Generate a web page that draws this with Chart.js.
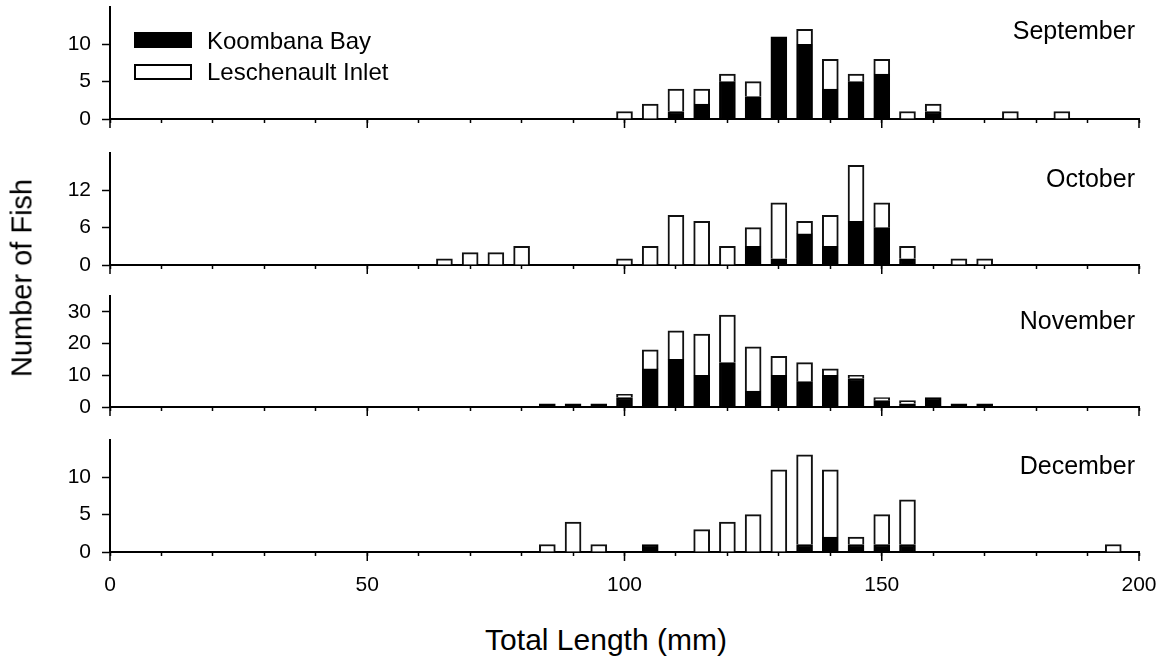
<!DOCTYPE html>
<html>
<head>
<meta charset="utf-8">
<script src="https://cdn.jsdelivr.net/npm/chart.js@4.4.1/dist/chart.umd.min.js"></script>
<style>
  body { margin: 0; background: #fff; font-family: 'Liberation Sans', Arial, sans-serif; }
  #wrap { position: relative; width: 1168px; height: 661px; overflow: hidden; }
  .panel { position: absolute; left: 0; width: 1175px; }
  .txt { position: absolute; color: #000; white-space: nowrap; line-height: 1; }
  .month { right: 33px; font-size: 25px; }
  .key { position: absolute; left: 134px; width: 58px; height: 16px; box-sizing: border-box; border: 2px solid #000; }
</style>
</head>
<body>
<div id="wrap">
  <div class="panel" id="p0"><canvas id="c0"></canvas></div>
  <div class="panel" id="p1"><canvas id="c1"></canvas></div>
  <div class="panel" id="p2"><canvas id="c2"></canvas></div>
  <div class="panel" id="p3"><canvas id="c3"></canvas></div>

  <div class="key" style="top:32px;background:#000"></div>
  <div class="key" style="top:64px;background:#fff"></div>
  <div class="txt" style="left:207px;top:29px;font-size:24px">Koombana Bay</div>
  <div class="txt" style="left:207px;top:60px;font-size:24px">Leschenault Inlet</div>

  <div class="txt month" style="top:18px">September</div>
  <div class="txt month" style="top:166px">October</div>
  <div class="txt month" style="top:308px">November</div>
  <div class="txt month" style="top:453px">December</div>

  <div class="txt" style="left:606px;top:625px;font-size:30px;transform:translateX(-50%)">Total Length (mm)</div>
  <div class="txt" style="left:22px;top:278px;font-size:29px;transform:translate(-50%,-50%) rotate(-90deg)">Number of Fish</div>
</div>
<script>
// length classes (mm), 5 mm bins
const lengths = [65, 70, 75, 80, 85, 90, 95, 100, 105, 110, 115, 120, 125, 130,
  135, 140, 145, 150, 155, 160, 165, 170, 175, 180, 185, 190, 195]

const septKoombana =    [0, 0, 0, 0, 0, 0, 0, 0, 0, 1, 2, 5, 3, 11, 10, 4, 5, 6, 0, 1, 0, 0, 0, 0, 0, 0, 0]
const septLeschenault = [0, 0, 0, 0, 0, 0, 0, 1, 2, 3, 2, 1, 2, 0, 2, 4, 1, 2, 1, 1, 0, 0, 1, 0, 1, 0, 0]
const octKoombana =     [0, 0, 0, 0, 0, 0, 0, 0, 0, 0, 0, 0, 3, 1, 5, 3, 7, 6, 1, 0, 0, 0, 0, 0, 0, 0, 0]
const octLeschenault =  [1, 2, 2, 3, 0, 0, 0, 1, 3, 8, 7, 3, 3, 9, 2, 5, 9, 4, 2, 0, 1, 1, 0, 0, 0, 0, 0]
const novKoombana =     [0, 0, 0, 0, 1, 1, 1, 3, 12, 15, 10, 14, 5, 10, 8, 10, 9, 2, 1, 3, 1, 1, 0, 0, 0, 0, 0]
const novLeschenault =  [0, 0, 0, 0, 0, 0, 0, 1, 6, 9, 13, 15, 14, 6, 6, 2, 1, 1, 1, 0, 0, 0, 0, 0, 0, 0, 0]
const decKoombana =     [0, 0, 0, 0, 0, 0, 0, 0, 1, 0, 0, 0, 0, 0, 1, 2, 1, 1, 1, 0, 0, 0, 0, 0, 0, 0, 0]
const decLeschenault =  [0, 0, 0, 0, 1, 4, 1, 0, 0, 0, 3, 4, 5, 11, 12, 9, 1, 4, 6, 0, 0, 0, 0, 0, 0, 0, 1]

const septTicks = [0, 5, 10]
const octTicks = [0, 6, 12]
const novTicks = [0, 10, 20, 30]
const decTicks = [0, 5, 10]
const xMajorTicks = [0, 50, 100, 150, 200]

Chart.defaults.font.family = "'Liberation Sans', Arial, sans-serif"
Chart.defaults.font.size = 21
Chart.defaults.color = '#000'

const PAD = 28
const CANVAS_W = 1175   // a bit wider than the page so the "200" label padding fits

// longer tick marks at every 50 mm
const majorTickPlugin = {
  id: 'majorTicks',
  afterDraw(chart) {
    const xs = chart.scales.x
    const ctx = chart.ctx
    const y0 = chart.chartArea.bottom
    ctx.save()
    ctx.strokeStyle = '#000'
    ctx.lineWidth = 1.5
    xMajorTicks.forEach(v => {
      const px = xs.getPixelForValue(v)
      ctx.beginPath()
      ctx.moveTo(px, y0)
      ctx.lineTo(px, y0 + 9)
      ctx.stroke()
    })
    ctx.restore()
  }
}

const toPoints = arr => arr.map((v, i) => ({ x: lengths[i], y: v === 0 ? null : v }))

const makePanel = (idx, plotTop, plotH, yMax, yTicks, koombana, leschenault, last) => {
  const axisH = last ? 60 : PAD
  const h = PAD + plotH + axisH
  const box = document.getElementById('p' + idx)
  box.style.top = (plotTop - PAD) + 'px'
  box.style.height = h + 'px'
  const canvas = document.getElementById('c' + idx)
  canvas.width = CANVAS_W
  canvas.height = h
  canvas.style.width = CANVAS_W + 'px'
  canvas.style.height = h + 'px'

  new Chart(canvas, {
    type: 'bar',
    data: {
      datasets: [{
        label: 'Koombana Bay',
        data: toPoints(koombana),
        backgroundColor: '#000',
        borderColor: '#000',
        borderWidth: 2,
        barThickness: 16
      }, {
        label: 'Leschenault Inlet',
        data: toPoints(leschenault),
        backgroundColor: '#fff',
        borderColor: '#111',
        borderWidth: 2,
        barThickness: 16
      }]
    },
    options: {
      responsive: false,
      animation: false,
      layout: { padding: { top: PAD, right: CANVAS_W - 1139, left: 0, bottom: 0 } },
      plugins: { legend: { display: false }, tooltip: { enabled: false } },
      scales: {
        x: {
          type: 'linear',
          stacked: true,
          offset: false,
          min: 0,
          max: 200,
          afterFit: s => { s.height = axisH },
          ticks: {
            display: last,
            stepSize: 10,
            autoSkip: false,
            maxRotation: 0,
            padding: 17,
            callback: v => (v % 50 === 0 ? v : '')
          },
          grid: { drawOnChartArea: false, offset: false, tickLength: 4, tickColor: '#000', tickWidth: 1.5 },
          border: { color: '#000', width: 2 }
        },
        y: {
          stacked: true,
          min: 0,
          max: yMax,
          afterFit: s => { s.width = 110 },
          afterBuildTicks: s => { s.ticks = yTicks.map(v => ({ value: v })) },
          ticks: { padding: 11 },
          grid: { drawOnChartArea: false, tickLength: 8, tickColor: '#000', tickWidth: 1.5 },
          border: { color: '#000', width: 2 }
        }
      }
    },
    plugins: [majorTickPlugin]
  })
}

makePanel(0, 7, 112, 15, septTicks, septKoombana, septLeschenault, false)
makePanel(1, 153, 112, 18, octTicks, octKoombana, octLeschenault, false)
makePanel(2, 296, 111, 35, novTicks, novKoombana, novLeschenault, false)
makePanel(3, 440, 112, 15, decTicks, decKoombana, decLeschenault, true)
</script>
</body>
</html>
